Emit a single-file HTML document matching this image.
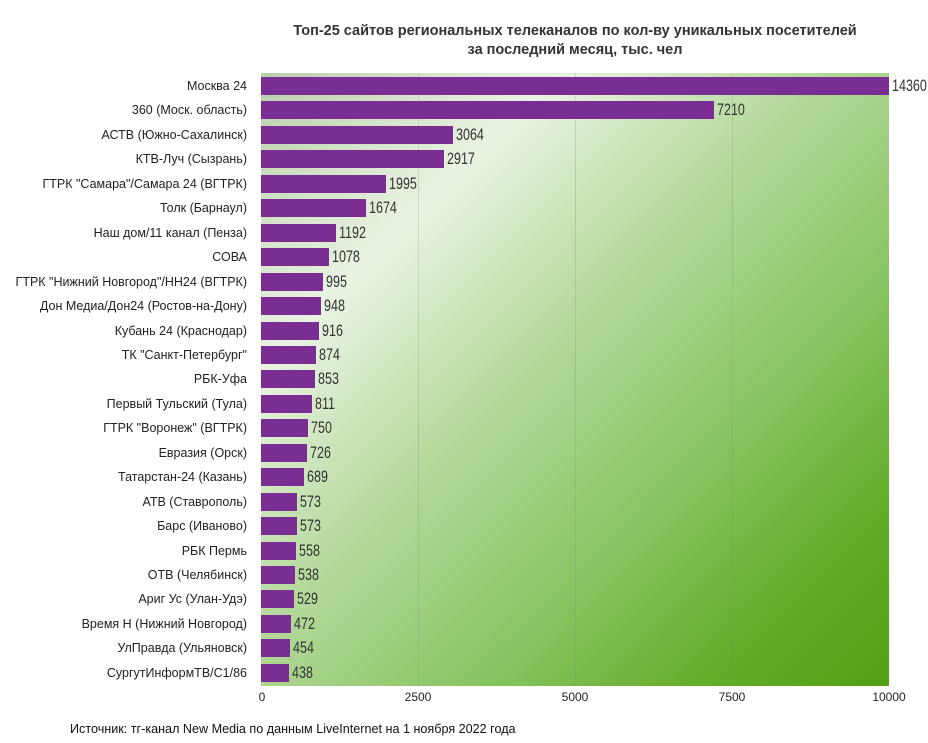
<!DOCTYPE html>
<html><head><meta charset="utf-8"><style>
body{margin:0;width:928px;height:743px;background:#fff;font-family:"Liberation Sans",sans-serif;position:relative;overflow:hidden}
.t{position:absolute;left:250px;width:650px;top:22px;text-align:center;font-weight:bold;font-size:14.5px;line-height:19px;color:#333}
.plot{position:absolute;left:261px;top:73px;width:628px;height:613px;background:linear-gradient(135deg,#b9cfaa 0%,#e9f3e2 24%,#b5d99c 45%,#86c35e 68%,#62ad2a 85%,#50a012 100%)}
.g{position:absolute;top:0;bottom:0;width:1px;background:rgba(120,140,110,.25)}
.bar{position:absolute;left:0;height:18px;background:#7a2d93}
.v{position:absolute;font-size:16.5px;color:#333;transform:scaleX(.76);transform-origin:left center;line-height:18px}
.l{position:absolute;right:681px;font-size:12.5px;color:#222;white-space:nowrap;line-height:18px}
.x{position:absolute;top:690px;font-size:12px;color:#222;transform:translateX(-50%)}
.s{position:absolute;left:70px;top:722px;font-size:12.6px;color:#111}
</style></head><body>
<div class="t">Топ-25 сайтов региональных телеканалов по кол-ву уникальных посетителей<br>за последний месяц, тыс. чел</div>
<div class="plot">
<div class="g" style="left:157px"></div><div class="g" style="left:314px"></div><div class="g" style="left:471px"></div>
</div>
<div id="c"></div>
<div class="x" style="left:262px">0</div><div class="x" style="left:418px">2500</div><div class="x" style="left:575px">5000</div><div class="x" style="left:732px">7500</div><div class="x" style="left:889px">10000</div>
<div class="s">Источник: тг-канал New Media по данным LiveInternet на 1 ноября 2022 года</div>
<script>
var d=[["Москва 24",14360],["360 (Моск. область)",7210],["АСТВ (Южно-Сахалинск)",3064],["КТВ-Луч (Сызрань)",2917],["ГТРК \"Самара\"/Самара 24 (ВГТРК)",1995],["Толк (Барнаул)",1674],["Наш дом/11 канал (Пенза)",1192],["СОВА",1078],["ГТРК \"Нижний Новгород\"/НН24 (ВГТРК)",995],["Дон Медиа/Дон24 (Ростов-на-Дону)",948],["Кубань 24 (Краснодар)",916],["ТК \"Санкт-Петербург\"",874],["РБК-Уфа",853],["Первый Тульский (Тула)",811],["ГТРК \"Воронеж\" (ВГТРК)",750],["Евразия (Орск)",726],["Татарстан-24 (Казань)",689],["АТВ (Ставрополь)",573],["Барс (Иваново)",573],["РБК Пермь",558],["ОТВ (Челябинск)",538],["Ариг Ус (Улан-Удэ)",529],["Время Н (Нижний Новгород)",472],["УлПравда (Ульяновск)",454],["СургутИнформТВ/С1/86",438]];
var h="";d.forEach(function(r,i){var y=77+i*24.45;var w=Math.min(r[1],10000)*0.0628;
h+='<div class="l" style="top:'+(y)+'px">'+r[0]+'</div><div class="bar" style="top:'+y+'px;left:261px;width:'+w+'px"></div><div class="v" style="top:'+y+'px;left:'+(261+w+3)+'px">'+r[1]+'</div>';});
document.getElementById("c").innerHTML=h;
</script>
</body></html>
